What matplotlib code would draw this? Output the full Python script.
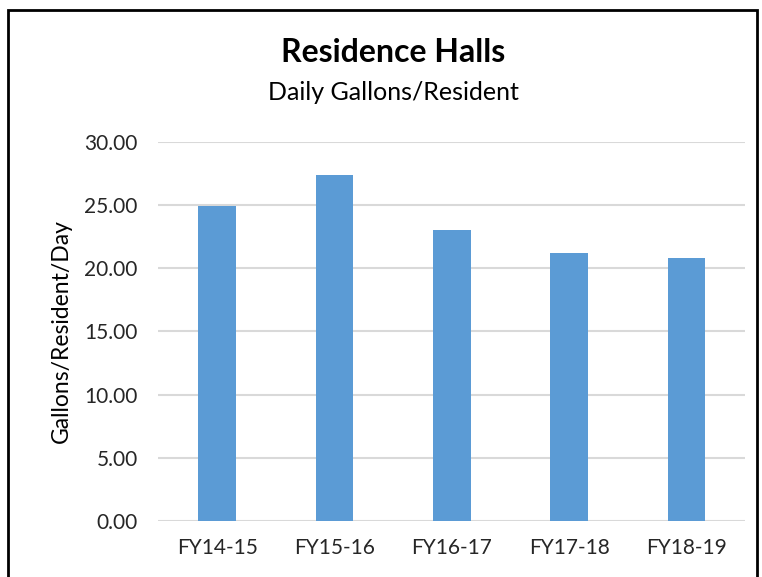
import matplotlib.pyplot as plt
import matplotlib.patches as patches
import numpy as np

# Daily gallons per resident, residence halls
years = ['FY14-15', 'FY15-16', 'FY16-17', 'FY17-18', 'FY18-19']
gallons = [24.96, 27.39, 23.04, 21.22, 20.82]

plt.rcParams['font.family'] = ['Lato', 'DejaVu Sans']

fig = plt.figure(figsize=(7.62, 5.77), dpi=100)
ax = fig.add_axes([0.208, 0.097, 0.770, 0.657])

x = np.arange(len(years))
ax.bar(x, gallons, 0.32, color='#5b9bd5', zorder=3)

ax.set_xlim(-0.5, len(years) - 0.5)
ax.set_ylim(0, 30)
ax.set_yticks(np.arange(0, 31, 5))
ax.set_yticklabels([f'{v:.2f}' for v in np.arange(0, 31, 5)])
ax.set_xticks(x)
ax.set_xticklabels(years)
ax.tick_params(length=0, labelsize=15, colors='#262626')
ax.tick_params(axis='x', pad=12)
ax.tick_params(axis='y', pad=15)
ax.yaxis.grid(True, color='#d9d9d9', linewidth=1.5, zorder=0)
for s in ax.spines.values():
    s.set_visible(False)
ax.set_ylabel('Gallons/Resident/Day', fontsize=16.5, color='#000000', labelpad=9)

fig.text(393 / 762, 1 - 52 / 577, 'Residence Halls', ha='center', va='center',
         fontsize=23, fontweight='bold')
fig.text(393 / 762, 1 - 93 / 577, 'Daily Gallons/Resident', ha='center', va='center',
         fontsize=18)

# outer frame, bottom edge cut off as in the original screenshot
frame = patches.Rectangle((8 / 762, -0.05), (757 - 8) / 762, 1.05 - 10 / 577,
                          transform=fig.transFigure, fill=False, edgecolor='black',
                          linewidth=2, clip_on=False)
fig.patches.append(frame)

fig.savefig('out.png', dpi=100)
